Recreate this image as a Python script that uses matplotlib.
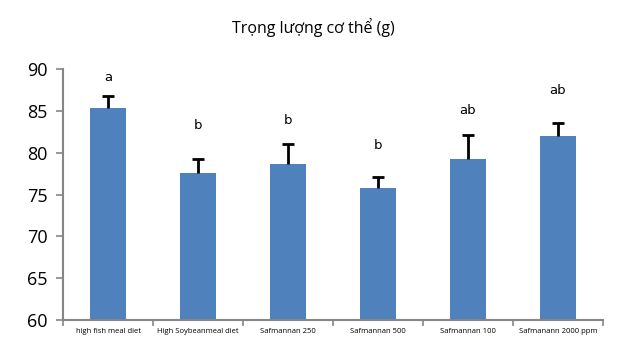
import matplotlib
matplotlib.use('Agg')
import matplotlib.pyplot as plt
import numpy as np

plt.rcParams['font.family'] = ['Open Sans', 'DejaVu Sans']

# data
categories = ['high fish meal diet', 'High Soybeanmeal diet', 'Safmannan 250',
              'Safmannan 500', 'Safmannan 100', 'Safmanann 2000 ppm']
weights = [85.3, 77.6, 78.6, 75.8, 79.2, 82.0]
errors = [1.5, 1.7, 2.4, 1.3, 2.9, 1.5]
letters = ['a', 'b', 'b', 'b', 'ab', 'ab']
letter_y = [89.0, 83.3, 83.8, 80.9, 85.0, 87.4]

bar_color = '#4F81BD'
axis_color = '#868686'

fig = plt.figure(figsize=(6.28, 3.56), dpi=100)
ax = fig.add_axes([63 / 628, 1 - 320 / 356, 540 / 628, 251 / 356])

x = np.arange(len(categories))
ax.bar(x, weights, width=0.4, color=bar_color, zorder=2)
eb = ax.errorbar(x, weights, yerr=[np.zeros(len(errors)), errors], fmt='none',
                 ecolor='black', elinewidth=2, capsize=4.5, capthick=2, zorder=3)
# only the upper cap is shown
eb[1][0].set_visible(False)

for xi, lab, ly in zip(x, letters, letter_y):
    ax.text(xi, ly, lab, ha='center', va='center', fontsize=9.5, family='DejaVu Sans')

ax.set_xlim(-0.5, len(categories) - 0.5)
ax.set_ylim(60, 90)
ax.set_yticks(range(60, 91, 5))
ax.tick_params(axis='y', labelsize=13, length=5, color=axis_color, width=1.2, pad=6)

ax.set_xticks(x)
ax.set_xticklabels(categories, fontsize=5.5)
ax.set_xticks(np.arange(-0.5, len(categories), 1), minor=True)
ax.tick_params(axis='x', which='major', length=0, pad=6)
ax.tick_params(axis='x', which='minor', length=4, color=axis_color, width=1.2)

for side in ['top', 'right']:
    ax.spines[side].set_visible(False)
for side in ['left', 'bottom']:
    ax.spines[side].set_color(axis_color)
    ax.spines[side].set_linewidth(1.5)

fig.text(313 / 628, 1 - 28 / 356, 'Trọng lượng cơ thể (g)', ha='center', va='center',
         fontsize=11.5)

plt.savefig('out.png', dpi=100)
